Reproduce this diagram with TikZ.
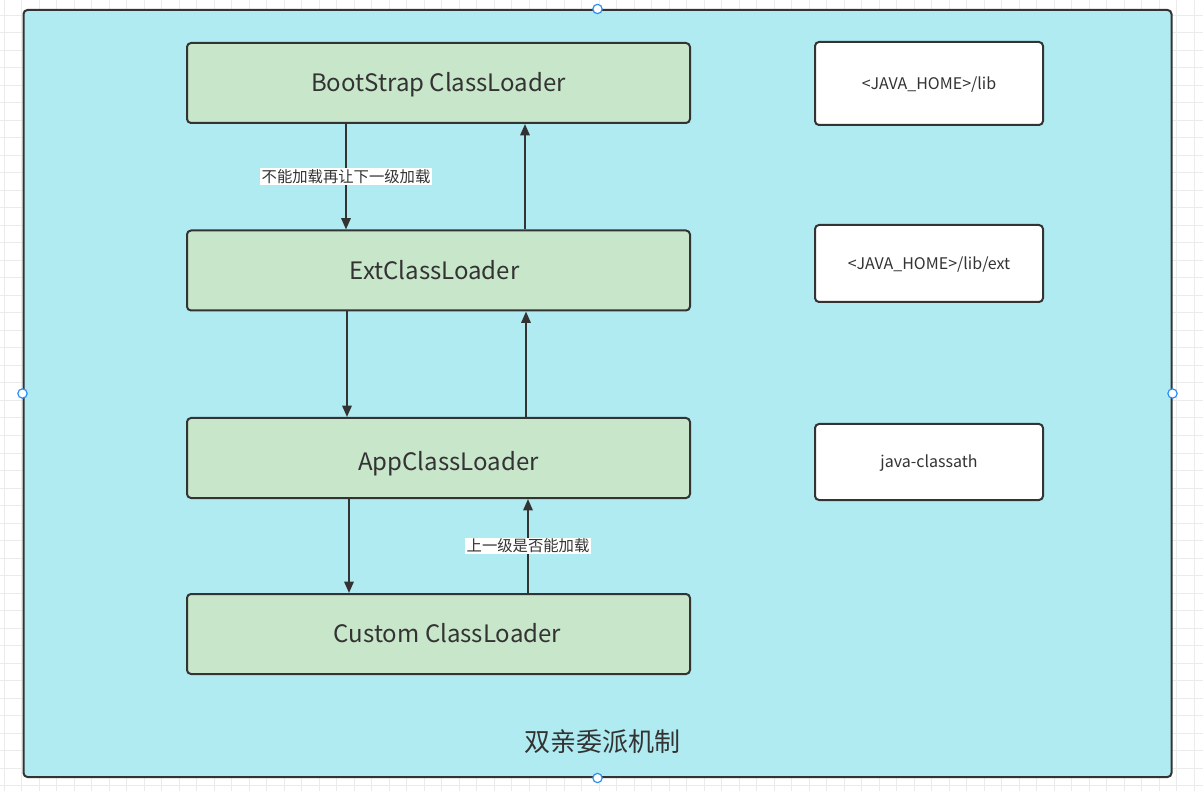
\documentclass[tikz,border=0pt]{standalone}
\usepackage{fontspec}
\setmainfont{Noto Sans CJK SC}
\usetikzlibrary{arrows.meta}
\definecolor{gridc}{HTML}{EBEBEB}
\definecolor{panel}{HTML}{B0EBF2}
\definecolor{greenbox}{HTML}{C8E6CA}
\definecolor{ink}{HTML}{333333}
\definecolor{handle}{HTML}{2F8EF4}
\tikzset{
  loader/.style={draw=ink, line width=1.5pt, fill=greenbox, rounded corners=3pt,
    minimum width=377.25pt, minimum height=60pt, text=ink, font=\fontsize{18pt}{21pt}\selectfont, inner sep=0pt,
    text height=13.2pt, text depth=0pt},
  pathbox/.style={draw=ink, line width=1.5pt, fill=white, rounded corners=3pt,
    minimum width=171pt, text=ink, font=\fontsize{12pt}{14pt}\selectfont, inner sep=0pt,
    text height=8.8pt, text depth=0pt},
  arr/.style={draw=ink, line width=1.5pt, -{Triangle[length=8.5pt,width=7pt]}},
  elabel/.style={fill=white, text=ink, font=\fontsize{11.5pt}{13pt}\selectfont, inner sep=1pt},
  hdl/.style={circle, draw=handle, fill=white, line width=0.9pt, minimum size=7pt, inner sep=0pt},
}
\begin{document}
\begin{tikzpicture}[x=0.75pt, y=-0.75pt]
\useasboundingbox (0,0) rectangle (1203,791);
\fill[white] (0,0) rectangle (1203,791);
% grid
\foreach \i in {0,...,68} {\draw[gridc, line width=0.75pt] ({4+17.5*\i},0) -- ({4+17.5*\i},791);}
\foreach \j in {0,...,45} {\draw[gridc, line width=0.75pt] (0,{-2+17.5*\j}) -- (1203,{-2+17.5*\j});}
% container
\node[draw=ink, line width=1.5pt, fill=panel, rounded corners=3pt, minimum width=861pt, minimum height=575.25pt, inner sep=0pt] (panel) at (597.5,393.5) {};
% loaders
\node[loader] (boot) at (438.5,83) {BootStrap ClassLoader};
\node[loader] (ext) at (438.5,270.5) {ExtClassLoader\hspace*{6pt}};
\node[loader] (app) at (438.5,458) {\hspace*{15pt}\raisebox{-3pt}{AppClassLoader}};
\node[loader] (cust) at (438.5,634) {\hspace*{13.5pt}Custom ClassLoader};
% path boxes
\node[pathbox, minimum height=62.25pt] (lib) at (929,83.5) {<JAVA\_HOME>/lib};
\node[pathbox, minimum height=57.75pt] (libext) at (929,263.5) {<JAVA\_HOME>/lib/ext};
\node[pathbox, minimum height=57pt] (cp) at (929,462) {java-classath};
% arrows
\draw[arr] (boot.south -| 346,0) -- node[elabel, pos=0.5] (l1) {不能加载再让下一级加载} (ext.north -| 346,0);
\draw[arr] (ext.north -| 525,0) -- (boot.south -| 525,0);
\draw[arr] (ext.south -| 347,0) -- (app.north -| 347,0);
\draw[arr] (app.north -| 526,0) -- (ext.south -| 526,0);
\draw[arr] (app.south -| 349,0) -- (cust.north -| 349,0);
\draw[arr] (cust.north -| 528,0) -- node[elabel, pos=0.5] (l2) {上一级是否能加载} (app.south -| 528,0);
% title
\node[text=ink, font=\fontsize{19.5pt}{22pt}\selectfont] (title) at (602,742) {双亲委派机制};
% handles
\node[hdl] (h1) at (panel.north) {};
\node[hdl] (h2) at (panel.south) {};
\node[hdl] (h3) at (panel.west) {};
\node[hdl] (h4) at (panel.east) {};
\end{tikzpicture}
\end{document}
